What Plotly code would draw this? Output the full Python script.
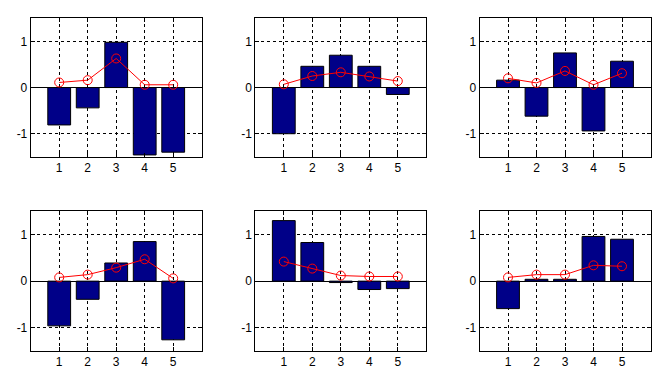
import plotly.graph_objects as go

categories = [1, 2, 3, 4, 5]
tick_vals_y = [-1, 0, 1]
tick_text_y = ["-1", "0", "1"]

bars_1 = [-0.81, -0.44, 0.98, -1.46, -1.40]
line_1 = [0.11, 0.16, 0.63, 0.06, 0.06]
bars_2 = [-1.00, 0.46, 0.70, 0.46, -0.15]
line_2 = [0.07, 0.25, 0.33, 0.24, 0.14]
bars_3 = [0.16, -0.62, 0.75, -0.94, 0.57]
line_3 = [0.20, 0.10, 0.36, 0.06, 0.31]
bars_4 = [-0.96, -0.39, 0.39, 0.85, -1.26]
line_4 = [0.08, 0.14, 0.29, 0.47, 0.06]
bars_5 = [1.30, 0.83, -0.03, -0.18, -0.16]
line_5 = [0.42, 0.27, 0.12, 0.10, 0.10]
bars_6 = [-0.59, 0.04, 0.04, 0.96, 0.90]
line_6 = [0.08, 0.14, 0.14, 0.34, 0.32]

all_bars = [bars_1, bars_2, bars_3, bars_4, bars_5, bars_6]
all_lines = [line_1, line_2, line_3, line_4, line_5, line_6]

W, H = 662, 385
lefts = [30.7, 255.3, 479.5]
pw = 171.0
rows = [(18.3, 156.8), (211.3, 351.0)]

fig = go.Figure()
layout = dict(
    width=W, height=H, margin=dict(l=0, r=0, t=0, b=0),
    paper_bgcolor="white", plot_bgcolor="white", showlegend=False,
    font=dict(family="Liberation Sans, Arial, sans-serif", size=12, color="black"),
)

for i in range(6):
    r, c = divmod(i, 3)
    n = i + 1
    xa = "x" if n == 1 else f"x{n}"
    ya = "y" if n == 1 else f"y{n}"
    fig.add_trace(go.Bar(
        x=categories, y=all_bars[i], width=0.8, xaxis=xa, yaxis=ya,
        marker=dict(color="#000088", line=dict(color="black", width=1)),
    ))
    fig.add_trace(go.Scatter(
        x=categories, y=all_lines[i], mode="lines+markers", xaxis=xa, yaxis=ya,
        line=dict(color="red", width=1),
        marker=dict(symbol="circle-open", size=9, color="red", line=dict(width=1, color="red")),
    ))
    x0 = lefts[c] / W
    x1 = (lefts[c] + pw) / W
    top, bot = rows[r]
    y0 = 1 - bot / H
    y1 = 1 - top / H
    xkey = "xaxis" if n == 1 else f"xaxis{n}"
    ykey = "yaxis" if n == 1 else f"yaxis{n}"
    layout[xkey] = dict(
        domain=[x0, x1], anchor=ya, range=[0, 6], tickvals=categories,
        showgrid=True, gridcolor="black", griddash="3px,3px", gridwidth=1,
        showline=True, linecolor="black", linewidth=1, mirror="ticks",
        ticks="inside", ticklen=4, tickcolor="black", zeroline=False,
        fixedrange=True,
    )
    layout[ykey] = dict(
        domain=[y0, y1], anchor=xa, range=[-1.5, 1.5], tickvals=tick_vals_y,
        ticktext=tick_text_y,
        showgrid=True, gridcolor="black", griddash="3px,3px", gridwidth=1,
        showline=True, linecolor="black", linewidth=1, mirror="ticks",
        ticks="inside", ticklen=4, tickcolor="black",
        zeroline=True, zerolinecolor="black", zerolinewidth=1,
        fixedrange=True,
    )

fig.update_layout(**layout)
fig.write_html(
    "out.html",
    config={"displayModeBar": False, "staticPlot": True},
    post_script="document.body.style.margin='0';document.body.style.overflow='hidden';",
)
